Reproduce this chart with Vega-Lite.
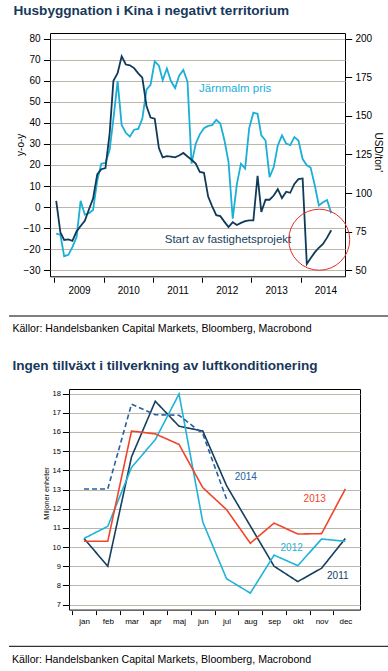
{
  "$schema": "https://vega.github.io/schema/vega-lite/v6.json",
  "autosize": {"type": "none"},
  "padding": {"left": 9, "top": 0, "right": 379, "bottom": 671},
  "background": "white",
  "bounds": "flush",
  "spacing": 0,
  "datasets": {
    "kina": [
      {"d": "2009-01-15", "hus": 3, "jarn": 73.7},
      {"d": "2009-02-15", "hus": -12, "jarn": 73},
      {"d": "2009-03-15", "hus": -15.6, "jarn": 59.1},
      {"d": "2009-04-15", "hus": -15.3, "jarn": 60},
      {"d": "2009-05-15", "hus": -16, "jarn": 65},
      {"d": "2009-06-15", "hus": -11.5, "jarn": 71.5},
      {"d": "2009-07-15", "hus": -9, "jarn": 95},
      {"d": "2009-08-15", "hus": -6.5, "jarn": 86},
      {"d": "2009-09-15", "hus": -1, "jarn": 87},
      {"d": "2009-10-15", "hus": 4, "jarn": 89},
      {"d": "2009-11-15", "hus": 15.5, "jarn": 108},
      {"d": "2009-12-15", "hus": 18, "jarn": 119},
      {"d": "2010-01-15", "hus": 18.5, "jarn": 119.5},
      {"d": "2010-02-15", "hus": 35, "jarn": 128},
      {"d": "2010-03-15", "hus": 60, "jarn": 148},
      {"d": "2010-04-15", "hus": 63.6, "jarn": 172.4},
      {"d": "2010-05-15", "hus": 71.6, "jarn": 144},
      {"d": "2010-06-15", "hus": 67.7, "jarn": 139},
      {"d": "2010-07-15", "hus": 67.3, "jarn": 136.5},
      {"d": "2010-08-15", "hus": 66, "jarn": 141},
      {"d": "2010-09-15", "hus": 63.5, "jarn": 141.5},
      {"d": "2010-10-15", "hus": 61.5, "jarn": 148},
      {"d": "2010-11-15", "hus": 48, "jarn": 167},
      {"d": "2010-12-15", "hus": 42.5, "jarn": 170},
      {"d": "2011-01-15", "hus": 42, "jarn": 185.3},
      {"d": "2011-02-15", "hus": 28, "jarn": 182.5},
      {"d": "2011-03-15", "hus": 23.6, "jarn": 173},
      {"d": "2011-04-15", "hus": 24.2, "jarn": 180.6},
      {"d": "2011-05-15", "hus": 24, "jarn": 172.5},
      {"d": "2011-06-15", "hus": 23.6, "jarn": 168},
      {"d": "2011-07-15", "hus": 24.5, "jarn": 176},
      {"d": "2011-08-15", "hus": 25.7, "jarn": 179.7},
      {"d": "2011-09-15", "hus": 24, "jarn": 172},
      {"d": "2011-10-15", "hus": 22.5, "jarn": 119},
      {"d": "2011-11-15", "hus": 20.7, "jarn": 131.9},
      {"d": "2011-12-15", "hus": 16.7, "jarn": 138},
      {"d": "2012-01-15", "hus": 16.3, "jarn": 142},
      {"d": "2012-02-15", "hus": 5, "jarn": 143.5},
      {"d": "2012-03-15", "hus": 0.5, "jarn": 144},
      {"d": "2012-04-15", "hus": -3.8, "jarn": 147.4},
      {"d": "2012-05-15", "hus": -4.3, "jarn": 145},
      {"d": "2012-06-15", "hus": -7, "jarn": 134},
      {"d": "2012-07-15", "hus": -9.5, "jarn": 120},
      {"d": "2012-08-15", "hus": -7.2, "jarn": 83.4},
      {"d": "2012-09-15", "hus": -8.5, "jarn": 106},
      {"d": "2012-10-15", "hus": -7.5, "jarn": 119},
      {"d": "2012-11-15", "hus": -6.7, "jarn": 115.8},
      {"d": "2012-12-15", "hus": -6.3, "jarn": 142},
      {"d": "2013-01-15", "hus": -6.3, "jarn": 152},
      {"d": "2013-02-15", "hus": 14.8, "jarn": 151.3},
      {"d": "2013-03-15", "hus": -2.3, "jarn": 137.3},
      {"d": "2013-04-15", "hus": 3.5, "jarn": 134},
      {"d": "2013-05-15", "hus": 3.5, "jarn": 110.3},
      {"d": "2013-06-15", "hus": 5.5, "jarn": 116.8},
      {"d": "2013-07-15", "hus": 8.5, "jarn": 130.8},
      {"d": "2013-08-15", "hus": 4.3, "jarn": 137.3},
      {"d": "2013-09-15", "hus": 7.3, "jarn": 132},
      {"d": "2013-10-15", "hus": 6.8, "jarn": 131},
      {"d": "2013-11-15", "hus": 11, "jarn": 136.2},
      {"d": "2013-12-15", "hus": 13.3, "jarn": 134},
      {"d": "2014-01-15", "hus": 13.6, "jarn": 122},
      {"d": "2014-02-15", "hus": -27, "jarn": 118},
      {"d": "2014-03-15", "hus": -24.3, "jarn": 116.5},
      {"d": "2014-04-15", "hus": -21.5, "jarn": 105},
      {"d": "2014-05-15", "hus": -19.3, "jarn": 92},
      {"d": "2014-06-15", "hus": -17.5, "jarn": 94},
      {"d": "2014-07-15", "hus": -14.5, "jarn": 95.5},
      {"d": "2014-08-15", "hus": -11, "jarn": 87}
    ],
    "ac": [
      {"year": "2011", "m": 1, "v": 10.45}, {"year": "2011", "m": 2, "v": 9.0}, {"year": "2011", "m": 3, "v": 14.7}, {"year": "2011", "m": 4, "v": 17.6},
      {"year": "2011", "m": 5, "v": 16.3}, {"year": "2011", "m": 6, "v": 16.05}, {"year": "2011", "m": 7, "v": 13.2}, {"year": "2011", "m": 8, "v": 11.1},
      {"year": "2011", "m": 9, "v": 9.0}, {"year": "2011", "m": 10, "v": 8.2}, {"year": "2011", "m": 11, "v": 8.9}, {"year": "2011", "m": 12, "v": 10.45},
      {"year": "2012", "m": 1, "v": 10.45}, {"year": "2012", "m": 2, "v": 11.08}, {"year": "2012", "m": 3, "v": 14.15}, {"year": "2012", "m": 4, "v": 15.6},
      {"year": "2012", "m": 5, "v": 17.98}, {"year": "2012", "m": 6, "v": 11.3}, {"year": "2012", "m": 7, "v": 8.35}, {"year": "2012", "m": 8, "v": 7.6},
      {"year": "2012", "m": 9, "v": 9.58}, {"year": "2012", "m": 10, "v": 9.03}, {"year": "2012", "m": 11, "v": 10.42}, {"year": "2012", "m": 12, "v": 10.3},
      {"year": "2013", "m": 1, "v": 10.3}, {"year": "2013", "m": 2, "v": 10.3}, {"year": "2013", "m": 3, "v": 16.05}, {"year": "2013", "m": 4, "v": 15.9},
      {"year": "2013", "m": 5, "v": 15.35}, {"year": "2013", "m": 6, "v": 13.1}, {"year": "2013", "m": 7, "v": 11.95}, {"year": "2013", "m": 8, "v": 10.2},
      {"year": "2013", "m": 9, "v": 11.25}, {"year": "2013", "m": 10, "v": 10.68}, {"year": "2013", "m": 11, "v": 10.7}, {"year": "2013", "m": 12, "v": 13.03},
      {"year": "2014", "m": 1, "v": 13.03}, {"year": "2014", "m": 2, "v": 13.03}, {"year": "2014", "m": 3, "v": 17.45}, {"year": "2014", "m": 4, "v": 16.9},
      {"year": "2014", "m": 5, "v": 16.87}, {"year": "2014", "m": 6, "v": 15.9}, {"year": "2014", "m": 7, "v": 12.5}
    ]
  },
  "vconcat": [
    {
      "width": 1, "height": 32.7, "view": {"stroke": null},
      "data": {"values": [{"s": 0}]}, "mark": {"type": "point", "opacity": 0}
    },
    {
      "bounds": "flush",
      "spacing": 0,
      "hconcat": [
        {
          "width": 40.3, "height": 1, "view": {"stroke": null},
          "data": {"values": [{"s": 0}]}, "mark": {"type": "point", "opacity": 0}
        },
        {
          "width": 295,
          "height": 243.3,
          "title": {"text": "Husbyggnation i Kina i negativt territorium", "anchor": "start", "frame": "group", "dx": -36.6, "fontSize": 13.6, "fontWeight": "bold", "color": "#17385a", "offset": 15.5},
          "layer": [
            {
              "data": {"name": "kina"},
              "mark": {"type": "line", "color": "#19afd6", "strokeWidth": 1.8},
              "encoding": {
                "x": {"field": "d", "type": "temporal",
                  "scale": {"type": "utc", "domain": [{"year": 2008, "month": 11, "date": 30, "utc": true}, {"year": 2014, "month": 11, "date": 25, "utc": true}]},
                  "axis": {"values": [{"year": 2009, "month": 1, "date": 1, "utc": true}, {"year": 2010, "month": 1, "date": 1, "utc": true}, {"year": 2011, "month": 1, "date": 1, "utc": true}, {"year": 2012, "month": 1, "date": 1, "utc": true}, {"year": 2013, "month": 1, "date": 1, "utc": true}, {"year": 2014, "month": 1, "date": 1, "utc": true}],
                    "tickCount": 50, "format": "%Y", "labelOffset": 24.7, "tickSize": 5, "offset": 1, "labelPadding": 3, "labelFontSize": 10, "grid": false, "title": null, "labelFlush": false, "labelOverlap": false}},
                "y": {"field": "jarn", "type": "quantitative",
                  "scale": {"domain": [46.1, 203.6], "nice": false, "zero": false},
                  "axis": {"orient": "right", "values": [50, 75, 100, 125, 150, 175, 200], "tickCount": 50, "title": "USD/ton'", "grid": false, "tickSize": 6.7, "labelPadding": 3.3, "minExtent": 27, "maxExtent": 27, "titlePadding": 0, "titleY": 118.8, "labelFontSize": 10, "titleFontSize": 10, "labelOverlap": false}}
              }
            },
            {
              "layer": [
                {
                  "data": {"name": "kina"},
                  "mark": {"type": "line", "color": "#0f3a58", "strokeWidth": 1.8},
                  "encoding": {
                    "x": {"field": "d", "type": "temporal"},
                    "y": {"field": "hus", "type": "quantitative",
                      "scale": {"domain": [-32.85, 82.66], "nice": false, "zero": false},
                      "axis": {"orient": "left", "values": [-30, -20, -10, 0, 10, 20, 30, 40, 50, 60, 70, 80], "tickCount": 50, "title": "y-o-y", "grid": true, "gridColor": "#bbb7ab", "tickSize": 6.6, "labelPadding": 3.4, "minExtent": 24.5, "maxExtent": 24.5, "titleX": -24.5, "titleY": 111.3, "labelFontSize": 10, "titleFontSize": 10, "labelOverlap": false}}
                  }
                },
                {
                  "data": {"values": [{"d": "2011-12-10", "hus": 56.3, "t": "Järnmalm pris"}]},
                  "mark": {"type": "text", "align": "left", "baseline": "middle", "fontSize": 11.5, "color": "#19afd6"},
                  "encoding": {
                    "x": {"field": "d", "type": "temporal"},
                    "y": {"field": "hus", "type": "quantitative"},
                    "text": {"field": "t"}
                  }
                },
                {
                  "data": {"values": [{"d": "2011-03-30", "hus": -15.8, "t": "Start av fastighetsprojekt"}]},
                  "mark": {"type": "text", "align": "left", "baseline": "middle", "fontSize": 11.5, "color": "#203f5c"},
                  "encoding": {
                    "x": {"field": "d", "type": "temporal"},
                    "y": {"field": "hus", "type": "quantitative"},
                    "text": {"field": "t"}
                  }
                },
                {
                  "data": {"values": [{"d": "2014-05-18", "hus": -15.5}]},
                  "mark": {"type": "point", "shape": "circle", "size": 3721, "filled": false, "stroke": "#e62b2b", "strokeWidth": 1, "opacity": 1},
                  "encoding": {
                    "x": {"field": "d", "type": "temporal"},
                    "y": {"field": "hus", "type": "quantitative"}
                  }
                }
              ]
            }
          ],
          "resolve": {"scale": {"y": "independent"}}
        }
      ]
    },
    {
      "width": 1, "height": 282.8, "view": {"stroke": null},
      "data": {"values": [{"s": 0}]}, "mark": {"type": "point", "opacity": 0}
    },
    {
      "width": 379,
      "height": 72.2,
      "view": {"stroke": null},
      "data": {"values": [{"r": 2}]},
      "mark": {"type": "rule", "color": "#000", "strokeWidth": 1},
      "encoding": {"y": {"field": "r", "type": "quantitative", "scale": {"domain": [1, 2]}, "axis": null}}
    },
    {
      "bounds": "flush",
      "spacing": 0,
      "hconcat": [
        {
          "width": 59.3, "height": 1, "view": {"stroke": null},
          "data": {"values": [{"s": 0}]}, "mark": {"type": "point", "opacity": 0}
        },
        {
          "width": 291,
          "height": 220.6,
          "title": {"text": "Källor: Handelsbanken Capital Markets,  Bloomberg, Macrobond", "subtitle": "Ingen tillväxt i tillverkning av luftkonditionering", "anchor": "start", "frame": "group", "dx": -56.6, "fontSize": 10.6, "fontWeight": "normal", "color": "#000", "subtitleFontSize": 13.6, "subtitleFontWeight": "bold", "subtitleColor": "#17385a", "subtitleFont": "Liberation Sans", "subtitlePadding": 24.6, "offset": 16},
          "layer": [
            {
              "data": {"name": "ac"},
              "mark": {"type": "line", "strokeWidth": 1.6},
              "encoding": {
                "x": {"field": "m", "type": "quantitative",
                  "scale": {"domain": [0.369, 12.616], "nice": false, "zero": false},
                  "axis": {"values": [0.5, 1.5, 2.5, 3.5, 4.5, 5.5, 6.5, 7.5, 8.5, 9.5, 10.5, 11.5], "tickCount": 50,
                    "labelExpr": "['jan','feb','mar','apr','maj','jun','jul','aug','sep','okt','nov','dec'][floor(datum.value)]",
                    "labelOffset": 11.9, "tickSize": 4, "offset": 1, "labelPadding": 3, "labelFontSize": 8, "grid": false, "title": null, "labelFlush": false, "labelOverlap": false}},
                "y": {"field": "v", "type": "quantitative",
                  "scale": {"domain": [6.74, 18.24], "nice": false, "zero": false},
                  "axis": {"values": [7, 8, 9, 10, 11, 12, 13, 14, 15, 16, 17, 18], "tickCount": 50, "format": "d", "grid": true, "gridColor": "#bbb7ab", "tickSize": 6.6, "labelPadding": 2, "labelFontSize": 7.5, "minExtent": 17, "maxExtent": 17, "title": "Miljoner enheter", "titleFontSize": 7.3, "titleX": -18.5, "titleY": 104, "labelOverlap": false}},
                "color": {"field": "year", "type": "nominal", "scale": {"domain": ["2011", "2012", "2013", "2014"], "range": ["#163f5f", "#1fb3d8", "#f0452b", "#27609e"]}, "legend": null},
                "strokeDash": {"field": "year", "type": "nominal", "scale": {"domain": ["2011", "2012", "2013", "2014"], "range": [[1, 0], [1, 0], [1, 0], [5, 3]]}, "legend": null}
              }
            },
            {
              "data": {"values": [
                {"m": 7.81, "v": 13.64, "year": "2014"},
                {"m": 10.71, "v": 12.53, "year": "2013"},
                {"m": 9.74, "v": 9.95, "year": "2012"},
                {"m": 11.68, "v": 8.47, "year": "2011"}
              ]},
              "mark": {"type": "text", "align": "center", "baseline": "middle", "fontSize": 10},
              "encoding": {
                "x": {"field": "m", "type": "quantitative"},
                "y": {"field": "v", "type": "quantitative"},
                "text": {"field": "year"},
                "color": {"field": "year", "type": "nominal", "legend": null}
              }
            }
          ]
        }
      ]
    },
    {
      "width": 379,
      "height": 257.3,
      "view": {"stroke": null},
      "title": {"text": "Källor: Handelsbanken Capital Markets, Bloomberg, Macrobond", "orient": "bottom", "anchor": "start", "frame": "group", "dx": 3, "fontSize": 10.6, "fontWeight": "normal", "color": "#000", "offset": 7.7},
      "data": {"values": [{"r": 1}]},
      "mark": {"type": "rule", "color": "#000", "strokeWidth": 1},
      "encoding": {"y": {"field": "r", "type": "quantitative", "scale": {"domain": [1, 2]}, "axis": null}}
    }
  ],
  "config": {
    "font": "Liberation Sans",
    "view": {"stroke": "#000", "strokeWidth": 1},
    "axis": {"labelColor": "#000", "tickColor": "#000", "titleColor": "#000", "titleFontWeight": "normal", "domain": false, "labelFont": "Liberation Sans", "titleFont": "Liberation Sans", "labelOverlap": false},
    "title": {"font": "Liberation Sans", "subtitleFont": "Liberation Sans"},
    "text": {"font": "Liberation Sans"}
  }
}
